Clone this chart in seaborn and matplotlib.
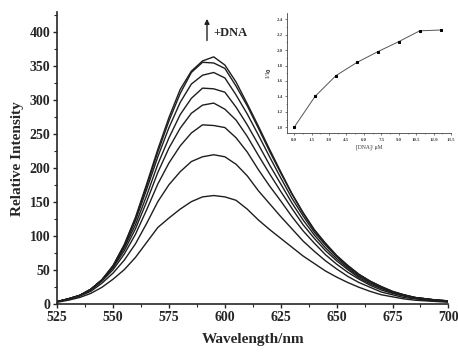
import matplotlib
matplotlib.use("Agg")
import matplotlib.pyplot as plt
import pandas as pd
import seaborn as sns

# Emission spectra (5 nm steps)
wavelength = list(range(525, 701, 5))

I_0 = [3, 6, 10, 16, 25, 37, 51, 69, 91, 113, 127, 140, 151, 158, 160, 158, 153, 140,
       124, 110, 97, 84, 71, 60, 49, 40, 32, 25, 19, 14, 11, 8, 6, 5, 4, 3]
I_1 = [4, 7, 12, 19, 31, 46, 65, 89, 119, 151, 176, 195, 210, 217, 220, 217, 206, 189,
       167, 148, 129, 111, 93, 78, 64, 52, 41, 32, 25, 18, 14, 10, 8, 6, 5, 4]
I_2 = [4, 8, 13, 21, 34, 51, 74, 103, 139, 177, 208, 233, 252, 264, 263, 260, 245, 224,
       198, 174, 152, 129, 108, 90, 73, 59, 47, 37, 28, 21, 16, 12, 9, 7, 6, 4]
I_3 = [4, 8, 13, 22, 35, 54, 79, 111, 151, 194, 230, 259, 281, 293, 296, 287, 271, 247,
       219, 192, 166, 141, 117, 97, 79, 64, 51, 39, 30, 23, 17, 13, 9, 7, 6, 5]
I_4 = [4, 8, 13, 22, 36, 55, 83, 117, 160, 206, 245, 279, 303, 318, 317, 312, 290, 264,
       235, 205, 177, 149, 124, 102, 83, 67, 53, 41, 32, 24, 18, 13, 10, 8, 6, 5]
I_5 = [4, 8, 13, 22, 36, 56, 85, 123, 169, 217, 260, 297, 324, 337, 341, 333, 308, 280,
       249, 217, 186, 156, 130, 106, 87, 70, 55, 43, 33, 25, 18, 14, 10, 8, 6, 5]
I_6 = [4, 8, 13, 22, 36, 57, 87, 126, 174, 224, 270, 310, 341, 356, 355, 347, 321, 292,
       259, 225, 193, 162, 134, 109, 89, 71, 57, 44, 34, 26, 19, 14, 10, 8, 6, 5]
I_7 = [4, 8, 13, 22, 36, 57, 88, 128, 177, 228, 275, 316, 343, 358, 364, 352, 327, 295,
       262, 228, 195, 163, 135, 110, 90, 72, 57, 44, 34, 26, 19, 14, 10, 8, 6, 5]

spectra = [I_0, I_1, I_2, I_3, I_4, I_5, I_6, I_7]

# Inset: I/I0 vs [DNA]
dna_conc = [0.0, 1.8, 3.6, 5.4, 7.2, 9.0, 10.8, 12.6]
ratio = [1.00, 1.40, 1.67, 1.84, 1.98, 2.11, 2.25, 2.26]

df = pd.concat(
    [pd.DataFrame({"wl": wavelength, "I": s, "run": i}) for i, s in enumerate(spectra)]
)
df_in = pd.DataFrame({"c": dna_conc, "r": ratio})

sns.set_style("ticks")
plt.rcParams["font.family"] = ["Liberation Serif", "DejaVu Serif"]
plt.rcParams["font.weight"] = "bold"
plt.rcParams["axes.labelweight"] = "bold"

fig = plt.figure(figsize=(4.58, 3.53), dpi=100)
ax = fig.add_axes([0.125, 0.138, 0.854, 0.828])

sns.lineplot(data=df, x="wl", y="I", units="run", estimator=None,
             color="#1e1e1e", linewidth=1.0, ax=ax)

ax.set_xlim(525, 700)
ax.set_ylim(0, 430)
ax.set_xticks(range(525, 701, 25))
ax.set_xticks([537.5 + 25 * k for k in range(7)], minor=True)
ax.set_yticks(range(0, 401, 50))
ax.set_yticks(range(25, 430, 50), minor=True)
ax.tick_params(axis="both", which="major", labelsize=10, length=3, width=1, direction="out", pad=2)
ax.tick_params(axis="both", which="minor", length=2, width=0.8, direction="out")
for lab in ax.get_xticklabels() + ax.get_yticklabels():
    lab.set_fontweight("bold")
ax.set_xlabel("Wavelength/nm", fontsize=11, fontweight="bold", labelpad=6)
ax.set_ylabel("Relative Intensity", fontsize=11, fontweight="bold", labelpad=4)
sns.despine(ax=ax)
for sp in ["left", "bottom"]:
    ax.spines[sp].set_linewidth(1.2)

ax.annotate("", xy=(592, 424), xytext=(592, 384),
            arrowprops=dict(arrowstyle="-|>", color="#222222", lw=1.0, mutation_scale=7))
ax.text(595, 399, "+DNA", fontsize=9, fontweight="bold", va="center", ha="left")

# inset
ax_in = fig.add_axes([0.627, 0.622, 0.358, 0.341])
sns.lineplot(data=df_in, x="c", y="r", color="#555555", linewidth=0.7,
             marker="s", markersize=2, markerfacecolor="black",
             markeredgecolor="black", ax=ax_in)
ax_in.set_xlim(-0.6, 13.5)
ax_in.set_ylim(0.92, 2.48)
ax_in.set_xticks([1.5 * k for k in range(10)])
ax_in.set_xticks([0.75 + 1.5 * k for k in range(9)], minor=True)
ax_in.set_yticks([1.0, 1.2, 1.4, 1.6, 1.8, 2.0, 2.2, 2.4])
ax_in.set_yticks([1.1, 1.3, 1.5, 1.7, 1.9, 2.1, 2.3], minor=True)
ax_in.tick_params(axis="both", which="major", labelsize=3.5, length=1.5, width=0.5, pad=1.5,
                  colors="#444444")
ax_in.tick_params(axis="both", which="minor", length=1, width=0.4, colors="#444444")
ax_in.set_xlabel("[DNA]/ \u03bcM", fontsize=4, fontweight="normal", labelpad=2, color="#333333")
ax_in.set_ylabel("I/I$_0$", fontsize=5, fontweight="normal", labelpad=2, color="#333333")
sns.despine(ax=ax_in)
for sp in ["left", "bottom"]:
    ax_in.spines[sp].set_linewidth(0.6)
    ax_in.spines[sp].set_color("#444444")
ax_in.patch.set_alpha(0)

fig.savefig("out.png", dpi=100)
